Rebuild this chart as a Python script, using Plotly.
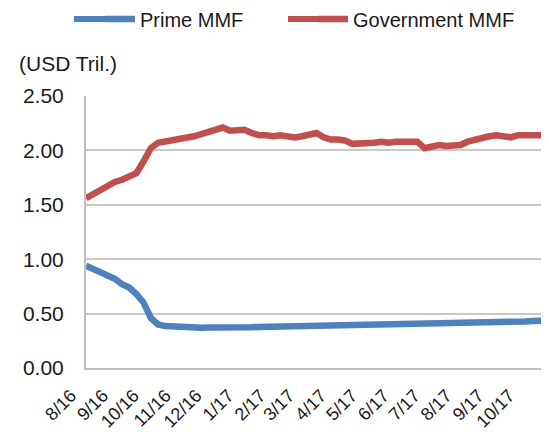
import plotly.graph_objects as go
import pandas as pd

dates = pd.date_range("2016-08-01", periods=65, freq="7D")

prime_mmf = [
    0.94, 0.91, 0.89, 0.86, 0.82, 0.77, 0.74, 0.68, 0.60, 0.46,
    0.40, 0.385, 0.38, 0.375, 0.372, 0.370, 0.370, 0.372, 0.370, 0.372,
    0.371, 0.372, 0.373, 0.375, 0.377, 0.378, 0.380, 0.380, 0.381, 0.382,
    0.383, 0.384, 0.385, 0.386, 0.387, 0.388, 0.389, 0.390, 0.391, 0.392,
    0.394, 0.395, 0.396, 0.397, 0.398, 0.399, 0.400, 0.401, 0.403, 0.404,
    0.405, 0.407, 0.409, 0.411, 0.413, 0.415, 0.417, 0.419, 0.421, 0.423,
    0.426, 0.428, 0.431, 0.434, 0.437,
]

government_mmf = [
    1.56, 1.60, 1.63, 1.67, 1.71, 1.73, 1.76, 1.79, 1.90, 2.02,
    2.07, 2.08, 2.10, 2.11, 2.12, 2.13, 2.15, 2.17, 2.19, 2.21,
    2.18, 2.18, 2.19, 2.16, 2.14, 2.14, 2.13, 2.14, 2.13, 2.12,
    2.13, 2.14, 2.16, 2.12, 2.10, 2.10, 2.09, 2.06, 2.06, 2.07,
    2.07, 2.08, 2.07, 2.08, 2.08, 2.08, 2.08, 2.02, 2.04, 2.05,
    2.04, 2.04, 2.05, 2.08, 2.10, 2.12, 2.13, 2.14, 2.13, 2.12,
    2.14, 2.14, 2.15, 2.14, 2.14,
]

y_ticks = [0.0, 0.5, 1.0, 1.5, 2.0, 2.5]
y_tick_labels = ["0.00", "0.50", "1.00", "1.50", "2.00", "2.50"]

BLUE, RED = "#4F81BD", "#C0504D"
FONT = "Liberation Sans, Arial, sans-serif"
W, H = 541, 424
ML, MT, MB = 78, 88, 64
PW, PH = W - ML, H - MT - MB


def px_x(x):
    return (x - ML) / PW


def px_y(y):
    return (H - MB - y) / PH


LEG_Y = 11

fig = go.Figure()
fig.add_trace(go.Scatter(x=dates, y=prime_mmf, mode="lines", name="Prime MMF",
                         line=dict(color=BLUE, width=6.5), legend="legend"))
fig.add_trace(go.Scatter(x=dates, y=government_mmf, mode="lines", name="Government MMF",
                         line=dict(color=RED, width=6.5), legend="legend2"))

leg_common = dict(orientation="h", xref="container", xanchor="left",
                  yref="container", y=1 - LEG_Y / H, yanchor="middle",
                  font=dict(size=20), bgcolor="rgba(0,0,0,0)")

fig.update_layout(
    width=W, height=H,
    margin=dict(l=ML, r=0, t=MT, b=MB, autoexpand=False),
    paper_bgcolor="white", plot_bgcolor="white",
    font=dict(family=FONT, size=20, color="#1a1a1a"),
    showlegend=True,
    legend=dict(x=92 / W, **leg_common),
    legend2=dict(x=305 / W, **leg_common),
    annotations=[dict(text="(USD Tril.)", x=px_x(9), xref="paper", xanchor="left",
                      y=px_y(55), yref="paper", yanchor="middle",
                      showarrow=False, font=dict(size=21))],
    shapes=[
        dict(type="line", xref="paper", yref="paper", x0=px_x(66), x1=px_x(100),
             y0=px_y(LEG_Y), y1=px_y(LEG_Y), line=dict(color=BLUE, width=6)),
        dict(type="line", xref="paper", yref="paper", x0=px_x(280), x1=px_x(313),
             y0=px_y(LEG_Y), y1=px_y(LEG_Y), line=dict(color=RED, width=6)),
    ],
)
fig.update_xaxes(
    type="date", range=["2016-08-01", "2017-10-25"],
    dtick="M1", tick0="2016-08-01", tickformat="%-m/%y", tickangle=-45,
    showgrid=False, showline=True, linecolor="#BFBFBF", linewidth=2,
    ticks="", ticklabelshift=-15, ticklabelstandoff=8,
    tickfont=dict(size=18, color="#1a1a1a"),
)
fig.update_yaxes(
    range=[0, 2.5], tickvals=y_ticks, ticktext=y_tick_labels,
    showgrid=True, gridcolor="#C8C8C8", gridwidth=2,
    showline=True, linecolor="#BFBFBF", linewidth=2, mirror=False,
    zeroline=False, ticks="", ticklabelstandoff=16,
    tickfont=dict(size=21, color="#1a1a1a"),
)
fig.write_html("out.html")
